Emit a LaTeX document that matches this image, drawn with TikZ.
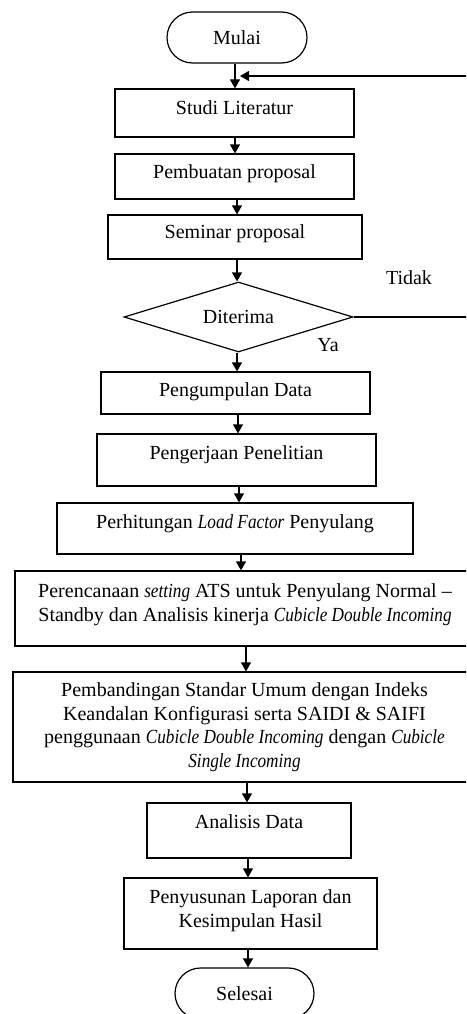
\documentclass[tikz,border=0pt]{standalone}
\usepackage{fontspec}
\setmainfont{Liberation Serif}[ItalicFeatures={FakeStretch=0.86}]
\usetikzlibrary{shapes.geometric,shapes.misc,arrows.meta}
\newcommand\flowfont{\fontsize{20}{23.5}\selectfont}
\begin{document}
\begin{tikzpicture}[x=1pt,y=-1pt,
  box/.style={draw, line width=1.2pt, rectangle, inner sep=0pt},
  term/.style={draw, line width=1.2pt, rounded rectangle, inner sep=0pt, font=\flowfont},
  txt/.style={inner sep=0pt, align=center, font=\flowfont},
  arr/.style={line width=1.2pt, -{Triangle[width=10pt,length=9pt]}},
  ln/.style={line width=1.2pt}]
\useasboundingbox (0,0) rectangle (466,1014);
\clip (0,0) rectangle (466,1014);

% shapes
\node[term, minimum width=140pt, minimum height=51pt] (start) at (237,37.5) {Mulai};
\node[box, minimum width=239pt, minimum height=48pt] (b1) at (234.5,113) {};
\node[box, minimum width=239pt, minimum height=45pt] (b2) at (234.5,176.5) {};
\node[box, minimum width=254pt, minimum height=44pt] (b3) at (235,237) {};
\node[draw, diamond, line width=1.2pt, minimum width=229pt, minimum height=70pt,
      inner sep=0pt, aspect=3.27, font=\flowfont] (dia) at (238.5,317) {Diterima};
\node[box, minimum width=269pt, minimum height=42pt] (b4) at (235.5,393) {};
\node[box, minimum width=279pt, minimum height=52pt] (b5) at (236.5,460) {};
\node[box, minimum width=356pt, minimum height=51pt] (b6) at (235,528.5) {};
\node[box, minimum width=460pt, minimum height=75pt] (b7) at (245,608.5) {};
\node[box, minimum width=463pt, minimum height=110pt] (b8) at (244.5,727) {};
\node[box, minimum width=204pt, minimum height=55pt] (b9) at (249,830.5) {};
\node[box, minimum width=253pt, minimum height=71pt] (b10) at (250.5,913.5) {};
\node[term, minimum width=139pt, minimum height=51pt] (end) at (244.5,993.5) {Selesai};

% texts
\node[txt, anchor=base] (t1) at ([yshift=-26pt]b1.north) {Studi Literatur};
\node[txt, anchor=base] (t2) at ([yshift=-25pt]b2.north) {Pembuatan proposal};
\node[txt, anchor=base] (t3) at ([yshift=-24pt]b3.north) {Seminar proposal};
\node[txt, anchor=base] (t4) at ([yshift=-25pt]b4.north) {Pengumpulan Data};
\node[txt, anchor=base] (t5) at ([yshift=-26pt]b5.north) {Pengerjaan Penelitian};
\node[txt, anchor=base] (t6) at ([yshift=-26pt]b6.north) {Perhitungan \emph{Load Factor} Penyulang};
\node[txt, anchor=north] (t7) at ([yshift=-13.3pt]b7.north)
  {Perencanaan \emph{setting} ATS untuk Penyulang Normal –\\
   Standby dan Analisis kinerja \emph{Cubicle Double Incoming}};
\node[txt, anchor=north] (t8) at ([yshift=-11.3pt]b8.north)
  {Pembandingan Standar Umum dengan Indeks\\
   Keandalan Konfigurasi serta SAIDI \& SAIFI\\
   penggunaan \emph{Cubicle Double Incoming} dengan \emph{Cubicle}\\
   \emph{Single Incoming}};
\node[txt, anchor=base] (t9) at ([yshift=-26pt]b9.north) {Analisis Data};
\node[txt, anchor=north] (t10) at ([yshift=-12.3pt]b10.north)
  {Penyusunan Laporan dan\\ Kesimpulan Hasil};
\node[txt, anchor=base] (tidak) at (409,284) {Tidak};
\node[txt, anchor=base] (ya) at (328,351) {Ya};

% connectors
\draw[arr] ([xshift=-2pt]start.south) -- ([xshift=0.5pt]b1.north);
\draw[arr] ([xshift=0.5pt]b1.south) -- ([xshift=0.5pt]b2.north);
\draw[arr] ([xshift=2.5pt]b2.south) -- ([xshift=2pt]b3.north);
\draw[arr] ([xshift=2pt]b3.south) -- ([xshift=-1.5pt]dia.north);
\draw[arr] ([xshift=-1.5pt]dia.south) -- ([xshift=1.5pt]b4.north);
\draw[arr] ([xshift=2.5pt]b4.south) -- ([xshift=1.5pt]b5.north);
\draw[arr] ([xshift=2.5pt]b5.south) -- ([xshift=4pt]b6.north);
\draw[arr] ([xshift=6pt]b6.south) -- ([xshift=-4pt]b7.north);
\draw[arr] ([xshift=1pt]b7.south) -- ([xshift=1.5pt]b8.north);
\draw[arr] ([xshift=2.5pt]b8.south) -- ([xshift=-2pt]b9.north);
\draw[arr] ([xshift=-1pt]b9.south) -- ([xshift=-2.5pt]b10.north);
\draw[arr] ([xshift=-2.5pt]b10.south) -- ([xshift=3.5pt]end.north);

% feedback loop (Tidak)
\coordinate (fbtip) at (240,76);
\coordinate (r1) at (480,317);
\coordinate (r2) at (480,76);
\draw[arr] (dia.east) -- (r1) -- (r2) -- (fbtip);
\end{tikzpicture}
\end{document}
